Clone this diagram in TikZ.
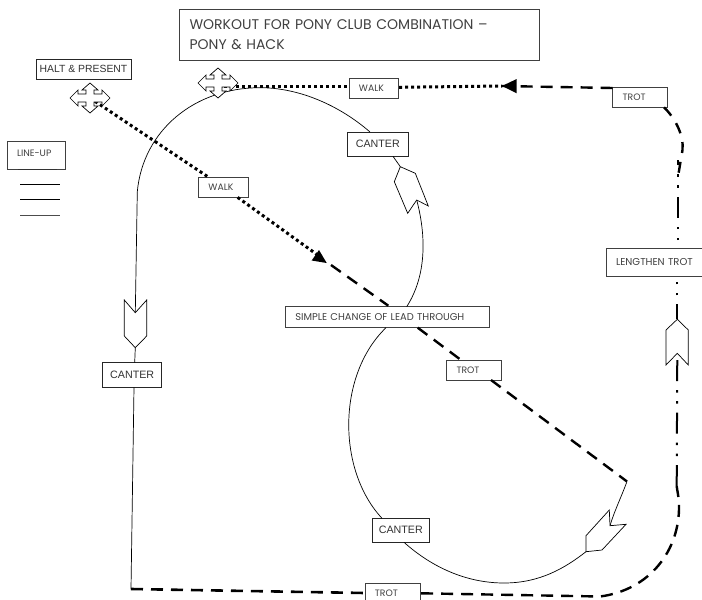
\documentclass[tikz,border=0pt]{standalone}
\usepackage{xcolor}
\usepackage{fontspec}
\setmainfont{Poppins}
\setsansfont{Liberation Sans}
\tikzset{
  labelbox/.style={draw=black!75,fill=white,line width=0.8pt,inner xsep=10pt,inner ysep=0pt,
    text width=#1,align=left,text=black!75,font=\fontsize{9.3}{11}\selectfont},
  canterbox/.style={draw=black!85,fill=white,line width=0.8pt,inner sep=0pt,align=center,
    text=black!80,font=\sffamily\fontsize{10.7}{12}\selectfont},
  walkline/.style={line width=3pt,dash pattern=on 3pt off 3pt},
  trotline/.style={line width=2.4pt,dash pattern=on 12pt off 8pt},
  longline/.style={line width=2pt,dash pattern=on 21pt off 9pt on 2.5pt off 8.5pt on 2.5pt off 9pt},
  canterline/.style={line width=0.7pt},
  fatarrow/.style={line width=0.7pt,fill=white,line join=miter},
}
\begin{document}
\begin{tikzpicture}[x=1pt,y=-1pt]
\useasboundingbox (0,0) rectangle (702,600);
%\draw[color=black!20,step=50] (0,0) grid (702,600);
\node[labelbox=339.5pt,minimum height=51.5pt,font=\fontsize{14}{20}\selectfont] (title) at (359.3,34.8)
  {WORKOUT FOR PONY CLUB COMBINATION --\\PONY \& HACK};
\node[canterbox,minimum width=95pt,minimum height=20pt,font=\sffamily\fontsize{10.4}{12}\selectfont] (halt) at (83.5,69) {HALT \& PRESENT};
\node[labelbox=38pt,minimum height=28pt,text depth=4pt] (lineup) at (36,155) {LINE-UP};
\node[labelbox=29.5pt,minimum height=20pt] (walka) at (223.2,187) {WALK};
\node[labelbox=29.7pt,minimum height=20pt] (walkb) at (373.8,88.3) {WALK};
\node[labelbox=34.6pt,minimum height=20pt] (trota) at (640,97.3) {TROT};
\node[labelbox=34.6pt,minimum height=20pt] (trotb) at (473.8,370) {TROT};
\node[labelbox=35.7pt,minimum height=20pt] (trotc) at (392.8,593) {TROT};
\node[labelbox=80pt,minimum height=28.7pt,font=\fontsize{10}{12}\selectfont] (lengthen) at (656,262.3) {LENGTHEN TROT};
\node[labelbox=184.4pt,minimum height=21pt,font=\fontsize{9.9}{12}\selectfont] (change) at (387.5,317.2) {SIMPLE CHANGE OF LEAD THROUGH};
\node[canterbox,minimum width=61pt,minimum height=24pt] (cantera) at (377.8,144.3) {CANTER};
\node[canterbox,minimum width=59pt,minimum height=24.6pt] (canterb) at (132.2,375) {CANTER};
\node[canterbox,minimum width=57pt,minimum height=24pt] (canterc) at (400.8,530.3) {CANTER};
% line-up marks
\draw[line width=0.7pt,black!80] (18,169.5) -- (57,169.5);
\draw[line width=0.7pt] (20,184) -- (60,184);
\draw[line width=0.7pt] (20,199.3) -- (60,199.3);
\draw[line width=0.7pt,black!70] (20,215) -- (60,215);
% points on the track
\coordinate (crossa) at (90,98);
\coordinate (crossb) at (218,83);
\coordinate (heada) at (319,256);
\coordinate (headb) at (502,86);
\coordinate (turn) at (627,481.5);
\coordinate (corner) at (131,589);
% canter track
\draw[canterline] (cantera.north west) ++(23,0) .. controls (340,106) and (300,87.7) .. (260,87.7)
  .. controls (195,87.7) and (143,130) .. (137.3,191.7) -- (135.3,312.7);
\draw[canterline] (135.3,347.7) -- (134.7,362.7);
\draw[canterline] (134,387.3) -- (corner);
\draw[canterline] (393,156.3) -- (400.3,166.7);
\draw[canterline] (416.7,200) .. controls (426,235) and (427,275) .. (406.7,306.7);
\draw[canterline] (386,327.7) .. controls (337,375) and (337,470) .. (382,518.3);
\draw[canterline] (404,542.3) .. controls (435,570) and (470,583) .. (504,583)
  .. controls (540,583) and (565,568) .. (586,551.7);
\draw[canterline] (610,525.7) .. controls (614,512) and (620,500) .. (turn);
% walk
\draw[walkline] (crossa) -- (walka);
\draw[walkline] (walka) -- (heada);
\draw[walkline] (crossb |- 0,86) -- (349,86);
\draw[walkline] (walkb.east |- 0,87.3) -- (headb);
% trot
\draw[trotline] (heada) ++(12,9) -- (388.3,305.7);
\draw[trotline] (417.7,327.7) -- (461,360);
\draw[trotline] (491,380) -- (turn);
\draw[trotline] (612.7,88) -- (headb);
\draw[trotline,dash pattern=on 11pt off 9pt] (664,107.3) .. controls (675,118) and (684,135) .. (682.5,150) -- (678.3,175);
\draw[trotline,line width=2.6pt] (corner) -- (365,593);
\draw[trotline] (trotc.east |- 0,593.3) -- (600,596.5) .. controls (650,590) and (680,550) .. (679,505)
  .. controls (679,497) and (677,490) .. (676.7,486);
% lengthen trot
\draw[longline] (676.7,486) -- (677.3,353.3);
\draw[longline,dash pattern=on 15pt off 9pt on 2.5pt off 8.5pt on 2.5pt off 9pt] (677.3,319.3) -- (677.3,276.7);
\draw[longline,dash phase=22pt] (678.3,248) -- (678.3,160);
% solid heads
\fill (319,250) -- (311.7,260.5) -- (326.7,263) -- cycle;
\fill (headb) -- (516.7,79) -- (516.7,93.3) -- cycle;
% fat arrows
\draw[fatarrow] (135.3,312.7) -- (124.3,300) -- (124.3,336) -- (135.3,347.7) -- (146.7,336) -- (146.7,300) -- cycle;
\draw[fatarrow] (677.3,353.3) -- (666,365) -- (666,330) -- (677.3,319.3) -- (688.3,330) -- (688.3,365) -- cycle;
\draw[fatarrow] (416.7,200) -- (428.3,206) -- (415.3,173.3) -- (400.3,166.7) -- (394.3,181.7) -- (407.7,213.3) -- cycle;
\draw[fatarrow] (610,525.7) -- (626,524.3) -- (602,550) -- (586,551.7) -- (586,535.7) -- (609.3,510) -- cycle;
% crosses
\begin{scope}[shift={(crossa)}]
\draw[fatarrow] (-20,0) -- (-12,-8) -- (-12,-4) -- (-4,-4) -- (-4,-8) -- (-8,-8) -- (0,-15) -- (8,-8) -- (4,-8) -- (4,-4) -- (12,-4) -- (12,-8) -- (20,0) -- (12,8) -- (12,4) -- (4,4) -- (4,8) -- (8,8) -- (0,15) -- (-8,8) -- (-4,8) -- (-4,4) -- (-12,4) -- (-12,8) -- cycle;
\end{scope}
\begin{scope}[shift={(crossb)}]
\draw[fatarrow] (-20,0) -- (-12,-8) -- (-12,-4) -- (-4,-4) -- (-4,-8) -- (-8,-8) -- (0,-15) -- (8,-8) -- (4,-8) -- (4,-4) -- (12,-4) -- (12,-8) -- (20,0) -- (12,8) -- (12,4) -- (4,4) -- (4,8) -- (8,8) -- (0,15) -- (-8,8) -- (-4,8) -- (-4,4) -- (-12,4) -- (-12,8) -- cycle;
\end{scope}
\end{tikzpicture}
\end{document}
